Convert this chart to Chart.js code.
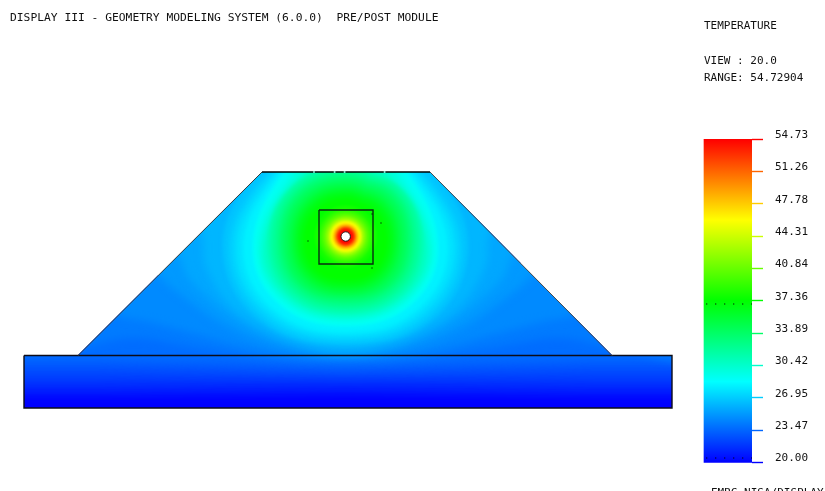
<!DOCTYPE html>
<html>
<head>
<meta charset="utf-8">
<style>html,body{margin:0;padding:0;background:#fff;overflow:hidden}canvas{display:block}</style>
<script src="https://cdn.jsdelivr.net/npm/chart.js@4"></script>
</head>
<body>
<canvas id="c" width="825" height="491"></canvas>
<script>
// ---- texts ----
const titleText = "DISPLAY III - GEOMETRY MODELING SYSTEM (6.0.0)  PRE/POST MODULE";
const sideTexts = ["TEMPERATURE", "VIEW : 20.0", "RANGE: 54.72904", "EMRC-NISA/DISPLAY"];
// ---- colour bar ----
const tickValues = [54.73, 51.26, 47.78, 44.31, 40.84, 37.36, 33.89, 30.42, 26.95, 23.47, 20.00];
const tickLabels = ["54.73", "51.26", "47.78", "44.31", "40.84", "37.36", "33.89", "30.42", "26.95", "23.47", "20.00"];
const tempMin = 20.0, tempMax = 54.73;
// ---- geometry (model units) ----
const plateX = [24, 672, 672, 24, 24];
const plateY = [355.5, 355.5, 408, 408, 355.5];
const moundX = [78, 262, 430, 612];
const moundY = [355.5, 172, 172, 355.5];
const regionX = [24, 78, 262, 430, 612, 672, 672, 24];
const regionY = [355.5, 355.5, 172, 172, 355.5, 355.5, 408, 408];
const blockX = [319, 373, 373, 319, 319];
const blockY = [210, 210, 264, 264, 210];
const holeX = [345.7], holeY = [236.5];
const nodeX = [308, 372, 381, 372, 706.7, 715.7, 724.7, 733.7, 742.7, 751.7, 706.7, 715.7, 724.7, 733.7, 742.7, 751.7];
const nodeY = [241, 214, 223, 268, 304, 304, 304, 304, 304, 304, 458, 458, 458, 458, 458, 458];
const gapX = [314, 334.6, 344.6, 384.6];
const gapY = [172, 172, 172, 172];
// ---- isotherms in the base plate: y read at plateLevelX ----
const plateLevelX = [0, 100, 220, 345, 470, 590, 700];
const plateLevelTemps = [20.5, 21, 21.5, 22, 22.5, 23, 23.5];
const plateLevelY = [
  [397, 397, 396, 395, 396, 397, 397],
  [391, 391, 390, 389, 390, 391, 391],
  [386, 386, 385, 384, 385, 386, 386],
  [380, 380, 379, 379, 379, 380, 380],
  [373, 373, 374, 375, 374, 373, 373],
  [366, 366, 368, 371, 368, 366, 366],
  [359, 359, 362, 366, 362, 359, 359]
];
// ---- isotherms in the mound ----
const moundTemps = [24, 24.5, 25, 25.5, 26];
const moundLevelX = [
  [0, 70, 130, 200, 270, 345, 421, 491, 561, 621, 700, 700, 0],
  [60, 115, 150, 200, 270, 345, 421, 491, 541, 576, 631, 631, 60],
  [120, 158, 175, 225, 285, 345, 406, 466, 516, 533, 571, 571, 120],
  [150, 178, 190, 235, 290, 345, 401, 456, 501, 513, 541, 541, 150],
  [170, 201, 205, 230, 270, 305, 345, 386, 421, 461, 486, 490, 521, 521, 170]
];
const moundLevelY = [
  [352, 350, 338, 348, 358, 361, 358, 348, 338, 350, 352, 100, 100],
  [290, 315, 322, 335, 352, 358, 352, 335, 322, 315, 290, 100, 100],
  [235, 275, 290, 325, 348, 356, 348, 325, 290, 275, 235, 80, 80],
  [220, 255, 280, 318, 343, 353, 343, 318, 280, 255, 220, 80, 80],
  [190, 232, 265, 305, 332, 344, 349, 344, 332, 305, 265, 232, 190, 80, 80]
];
// ---- closed isotherms round the source ----
const ringTemps = [26.5, 27, 27.5, 28, 28.7, 29, 29.75, 30.5, 31.25, 32, 32.75, 33.5, 34.25, 35, 35.75, 36.5, 37.25];
const ringX = [
  [345.5, 433, 468, 434, 345.5, 257, 223, 258],
  [345.5, 423, 461, 429, 345.5, 262, 230, 268],
  [345.5, 417, 455, 424, 345.5, 267, 236, 274],
  [345.5, 412, 448, 419, 345.5, 272, 243, 279],
  [345.5, 407, 438, 412, 345.5, 279, 253, 284],
  [345.5, 404, 436, 411, 345.5, 280, 255, 287],
  [345.5, 396, 432, 408, 345.5, 283, 259, 295],
  [345.5, 386, 427, 405, 345.5, 286, 264, 305],
  [345.5, 403, 423, 402, 345.5, 289, 268, 288],
  [345.5, 399, 419, 399, 345.5, 292, 272, 292],
  [345.5, 396, 414, 396, 345.5, 295, 277, 295],
  [345.5, 393, 410, 393, 345.5, 298, 281, 298],
  [345.5, 390, 406, 390, 345.5, 301, 285, 301],
  [345.5, 386, 401, 386, 345.5, 305, 290, 305],
  [345.5, 383, 397, 383, 345.5, 308, 294, 308],
  [345.5, 380, 393, 380, 345.5, 311, 298, 311],
  [345.5, 376, 388, 376, 345.5, 315, 303, 315]
];
const ringY = [
  [100, 172, 245, 318, 345, 318, 245, 172],
  [100, 172, 245, 315, 341, 315, 245, 172],
  [100, 172, 245, 312, 337, 312, 245, 172],
  [100, 172, 245, 309, 333, 309, 245, 172],
  [110, 172, 245, 304, 326, 304, 245, 172],
  [120, 172, 245, 302, 324, 302, 245, 172],
  [130, 172, 245, 299, 320, 299, 245, 172],
  [150, 172, 245, 296, 316, 296, 245, 172],
  [165, 190, 245, 294, 313, 294, 245, 190],
  [169, 189, 243, 291, 309, 291, 243, 189],
  [173, 192, 242, 288, 305, 288, 242, 192],
  [177, 194, 241, 285, 301, 285, 241, 194],
  [181, 197, 240, 283, 297, 283, 240, 197],
  [185, 200, 240, 280, 294, 280, 240, 200],
  [189, 203, 240, 277, 290, 277, 240, 203],
  [193, 206, 240, 274, 286, 274, 240, 206],
  [198, 210, 240, 271, 281, 271, 240, 210]
];
// ---- hot core: temperature and radius of each isotherm ----
const coreX = 345.7, coreY = 236.5;
const coreTemps = [38, 39, 40, 41, 42, 43, 44, 45, 46, 47, 48.5, 50, 51.5, 53, 54.5];
const coreRadii = [31, 27, 24, 21.5, 19.5, 18, 16.5, 15.5, 14.5, 13, 12, 10.5, 9.5, 8.5, 7.5];

// ---- colour map of the bar ----
const mapStops = [[0, 0, 255], [0, 255, 255], [0, 255, 0], [255, 255, 0], [255, 0, 0]];
function colorOf(t) {
  const f = Math.max(0, Math.min(0.9999, (t - tempMin) / (tempMax - tempMin))) * 4;
  const i = Math.floor(f), u = f - i, a = mapStops[i], b = mapStops[i + 1];
  return `rgb(${a.map((v, k) => Math.round(v + (b[k] - v) * u)).join(",")})`;
}
const zip = (xs, ys) => xs.map((x, i) => ({ x, y: ys[i] }));
const band = (t, pts, tension) => ({
  type: "scatter", showLine: true, data: pts, fill: "shape", tension,
  backgroundColor: colorOf(t), borderWidth: 0, pointRadius: 0, pointHoverRadius: 0
});
const stroke = (xs, ys, color, width) => ({
  type: "scatter", showLine: true, data: zip(xs, ys), fill: false, tension: 0,
  borderColor: color, borderWidth: width, pointRadius: 0, pointHoverRadius: 0
});

const sets = [];
// field
sets.push(band(tempMin, zip([0, 700, 700, 0], [120, 120, 430, 430]), 0));
plateLevelTemps.forEach((t, i) => sets.push(band(t + 0.2,
  zip(plateLevelX.concat([700, 0]), plateLevelY[i].concat([100, 100])), 0)));
moundTemps.forEach((t, i) => sets.push(band(t + 0.2, zip(moundLevelX[i], moundLevelY[i]), 0.35)));
const ringStart = sets.length;
ringTemps.forEach((t, i) => {
  const pts = zip(ringX[i], ringY[i]);
  sets.push(band(t + 0.2, pts.concat(pts.slice(0, 2)), 0.4));
});
const coreStart = sets.length;
sets.push({
  type: "bubble",
  data: coreTemps.map((t, i) => ({ x: coreX, y: coreY, r: coreRadii[i] })),
  backgroundColor: coreTemps.map(colorOf), borderWidth: 0
});
// everything below is no longer clipped to the model
const outlineStart = sets.length;
sets.push(stroke(plateX, plateY, "#0c0c18", 1.4));
sets.push(stroke(moundX.slice(0, 2), moundY.slice(0, 2), "#3a3a3a", 1));
sets.push(stroke(moundX.slice(1, 3), moundY.slice(1, 3), "#000", 1.4));
sets.push(stroke(moundX.slice(2, 4), moundY.slice(2, 4), "#4a4a4a", 1));
sets.push(stroke(blockX, blockY, "#0a2c12", 1.4));
sets.push({ type: "scatter", data: zip(holeX, holeY), pointRadius: 4.7, pointBackgroundColor: "#fff",
  pointBorderColor: "#111", pointBorderWidth: 0.9, pointHoverRadius: 4.7 });
sets.push({
  type: "bar", xAxisID: "x", yAxisID: "yT", grouped: false, barThickness: 48,
  data: [{ x: 728, y: [tempMin, tempMax] }], borderWidth: 0,
  backgroundColor(ctx) {
    const s = ctx.chart.scales.yT;
    if (!s || !ctx.chart.chartArea) return "#00f";
    const g = ctx.chart.ctx.createLinearGradient(0, s.getPixelForValue(tempMin), 0, s.getPixelForValue(tempMax));
    mapStops.forEach((c, i) => g.addColorStop(i / 4, `rgb(${c.join(",")})`));
    return g;
  }
});
sets.push({ type: "scatter", data: zip(gapX, gapY), pointStyle: "rect", pointRadius: 1.2,
  pointBackgroundColor: "#9fe", pointBorderWidth: 0 });
sets.push({ type: "scatter", data: zip(nodeX, nodeY), pointStyle: "rect", pointRadius: 0.8,
  pointBackgroundColor: "#000", pointBorderWidth: 0 });
sets.forEach((d, i) => { d.order = sets.length - i; });

let clipped = false;
const fieldClip = {
  id: "fieldClip",
  beforeDatasetsDraw(chart) {
    const { ctx, scales: { x, y } } = chart;
    ctx.save();
    ctx.beginPath();
    regionX.forEach((v, i) => {
      const px = x.getPixelForValue(v), py = y.getPixelForValue(regionY[i]);
      i ? ctx.lineTo(px, py) : ctx.moveTo(px, py);
    });
    ctx.closePath();
    ctx.clip();
    ctx.filter = "blur(4px)";
    clipped = true;
  },
  afterDatasetDraw(chart, args) {
    if (args.index + 1 === ringStart) chart.ctx.filter = "blur(2px)";
    if (args.index + 1 === coreStart) chart.ctx.filter = "blur(0.8px)";
  },
  beforeDatasetDraw(chart, args) {
    if (clipped && args.index === outlineStart) { chart.ctx.restore(); clipped = false; }
  },
  afterDraw(chart) {
    const { ctx } = chart;
    ctx.save();
    ctx.fillStyle = "#111";
    ctx.textBaseline = "alphabetic";
    ctx.font = '11.3px "DejaVu Sans Mono"';
    ctx.fillText(titleText, 10, 21);
    ctx.font = '11px "DejaVu Sans Mono"';
    ctx.fillText(sideTexts[0], 704, 29);
    ctx.fillText(sideTexts[1], 704, 64);
    ctx.fillText(sideTexts[2], 704, 81);
    ctx.fillText(sideTexts[3], 711, 496);
    ctx.restore();
  }
};

new Chart(document.getElementById("c"), {
  type: "scatter",
  data: { datasets: sets },
  plugins: [fieldClip],
  options: {
    responsive: false, animation: false, devicePixelRatio: 1,
    layout: { padding: 0, autoPadding: false },
    events: [],
    plugins: { legend: { display: false }, tooltip: { enabled: false }, title: { display: false } },
    scales: {
      x: { type: "linear", display: false, offset: false, min: 0, max: 752 },
      y: { type: "linear", display: false, offset: false, reverse: true, min: 0, max: 491 },
      yT: {
        type: "linear", position: "right", offset: false, min: 16.914, max: 69.71,
        afterFit(s) { s.width = 73; s.paddingTop = 0; s.paddingBottom = 0; },
        afterBuildTicks(s) { s.ticks = tickValues.map(value => ({ value })); },
        border: { display: false },
        grid: {
          offset: false, drawOnChartArea: false, drawTicks: true, tickLength: 11, tickWidth: 1.4,
          tickColor: c => colorOf(c.tick.value)
        },
        ticks: {
          autoSkip: false, padding: 12, labelOffset: -4, color: "#111",
          font: { family: '"DejaVu Sans Mono"', size: 11 },
          callback: v => tickLabels[tickValues.indexOf(v)]
        }
      }
    }
  }
});
</script>
</body>
</html>
